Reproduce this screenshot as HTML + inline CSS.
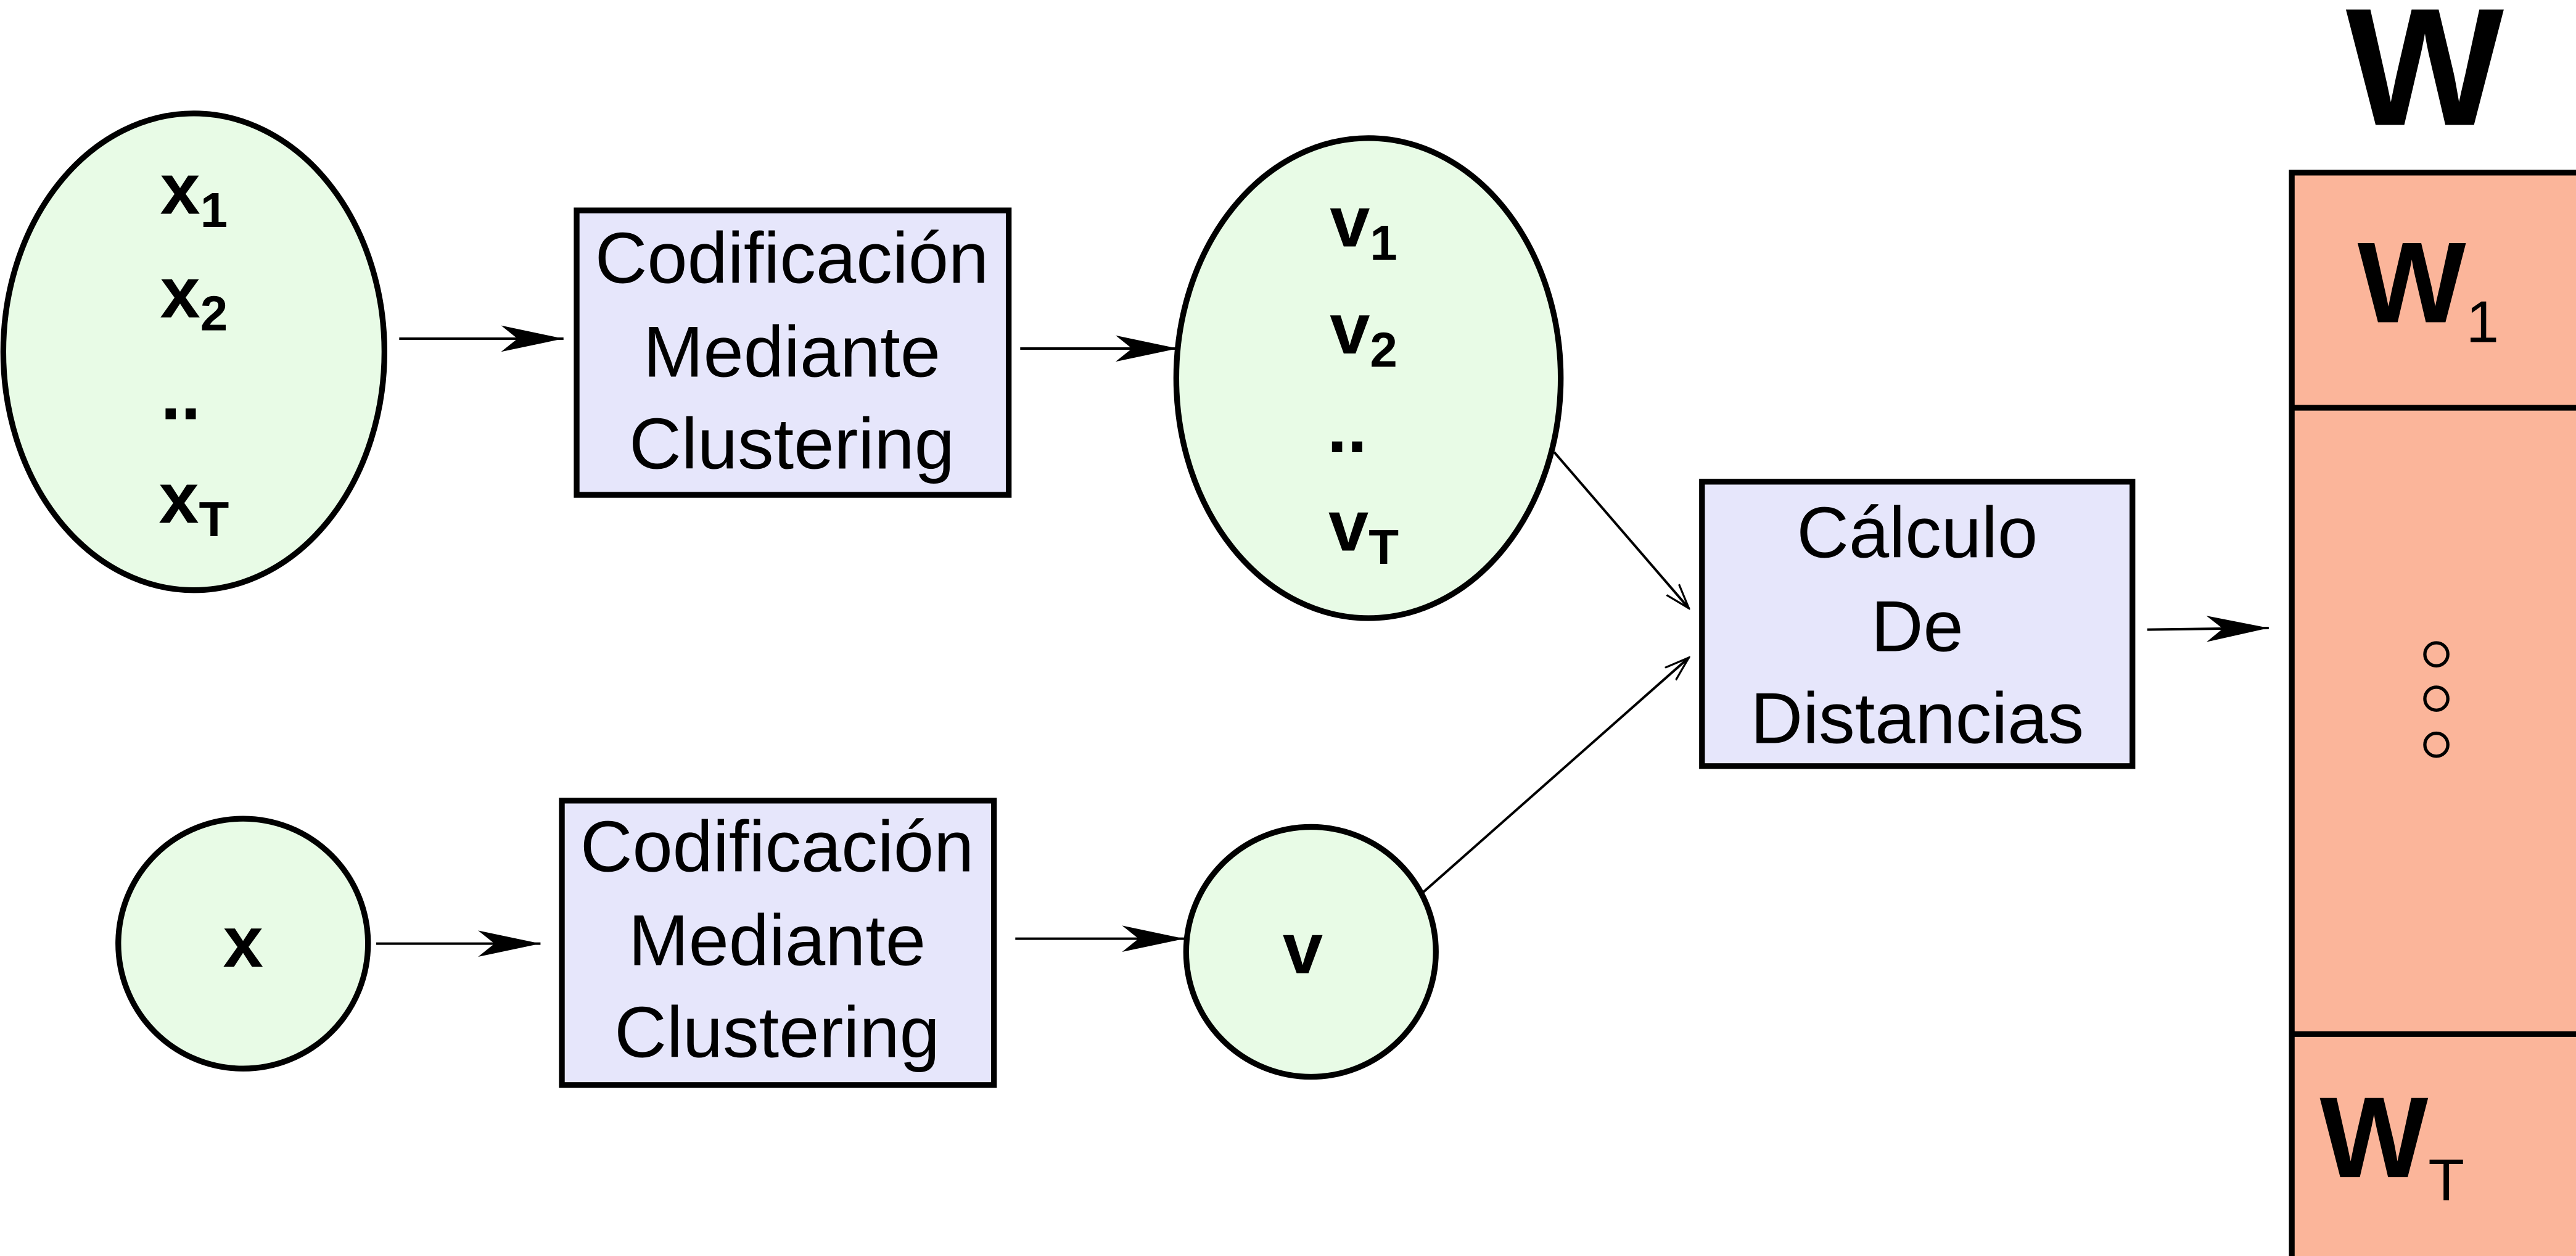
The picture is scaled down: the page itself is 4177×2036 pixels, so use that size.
<!DOCTYPE html>
<html><head><meta charset="utf-8"><style>
html,body{margin:0;padding:0;background:#fff;}
svg{display:block;}
text{font-family:"Liberation Sans",sans-serif;}
</style></head><body>
<svg width="4177" height="2036" viewBox="0 0 1568 764" preserveAspectRatio="none" xmlns="http://www.w3.org/2000/svg">
<defs>
<marker id="ah" markerWidth="40" markerHeight="20" refX="38" refY="10" orient="auto" markerUnits="userSpaceOnUse">
<path d="M0,2 L38,10 L0,18 L10,10 Z" fill="#000"/>
</marker>
<marker id="ahs" markerWidth="16" markerHeight="12" refX="15" refY="6" orient="auto" markerUnits="userSpaceOnUse">
<path d="M0,1 L15,6 L0,11" fill="none" stroke="#000" stroke-width="1.2"/>
</marker>
</defs>
<g stroke="#000" stroke-width="3.5">
<ellipse cx="118" cy="214" rx="116" ry="145" fill="#e8fbe6"/>
<ellipse cx="833" cy="230" rx="117" ry="146" fill="#e8fbe6"/>
<circle cx="148" cy="574" r="76" fill="#e8fbe6"/>
<circle cx="798" cy="579" r="76" fill="#e8fbe6"/>
<rect x="351" y="128" width="263" height="173" fill="#e6e6fb"/>
<rect x="342" y="487" width="263" height="173" fill="#e6e6fb"/>
<rect x="1036" y="293" width="262" height="173" fill="#e6e6fb"/>
<rect x="1395" y="105" width="175" height="665" fill="#fbb59a"/>
<line x1="1395" y1="248" x2="1568" y2="248"/>
<line x1="1395" y1="629" x2="1568" y2="629"/>
</g>
<g stroke="#000" stroke-width="1.5" fill="none">
<line x1="243" y1="206" x2="343" y2="206" marker-end="url(#ah)"/>
<line x1="621" y1="212" x2="717" y2="212" marker-end="url(#ah)"/>
<line x1="229" y1="574" x2="329" y2="574" marker-end="url(#ah)"/>
<line x1="618" y1="571" x2="721" y2="571" marker-end="url(#ah)"/>
<line x1="1307" y1="383" x2="1381" y2="382" marker-end="url(#ah)"/>
<line x1="946" y1="275" x2="1028" y2="370" marker-end="url(#ahs)"/>
<line x1="866" y1="543" x2="1028" y2="400" marker-end="url(#ahs)"/>
</g>
<g font-weight="bold" font-size="44" text-anchor="middle">
<text x="118" y="130">x<tspan font-size="30" dy="8">1</tspan></text>
<text x="118" y="193">x<tspan font-size="30" dy="8">2</tspan></text>
<text x="110" y="255">..</text>
<text x="118" y="318">x<tspan font-size="30" dy="8">T</tspan></text>
<text x="830" y="150">v<tspan font-size="30" dy="8">1</tspan></text>
<text x="830" y="215">v<tspan font-size="30" dy="8">2</tspan></text>
<text x="820" y="275">..</text>
<text x="830" y="335">v<tspan font-size="30" dy="8">T</tspan></text>
<text x="148" y="588">x</text>
<text x="793" y="592">v</text>
</g>
<g font-size="44" text-anchor="middle">
<text x="482" y="172">Codificación</text>
<text x="482" y="229">Mediante</text>
<text x="482" y="285">Clustering</text>
<text x="473" y="530">Codificación</text>
<text x="473" y="587">Mediante</text>
<text x="473" y="643">Clustering</text>
<text x="1167" y="339">Cálculo</text>
<text x="1167" y="396">De</text>
<text x="1167" y="452">Distancias</text>
</g>
<text x="1476" y="76" font-size="102" font-weight="bold" text-anchor="middle">W</text>
<text x="1435" y="196" font-size="70" font-weight="bold">W<tspan font-size="36" font-weight="normal" dy="12">1</tspan></text>
<text x="1412" y="716" font-size="70" font-weight="bold">W<tspan font-size="36" font-weight="normal" dy="14">T</tspan></text>
<g fill="none" stroke="#000" stroke-width="2">
<circle cx="1483" cy="398" r="7"/>
<circle cx="1483" cy="425" r="7"/>
<circle cx="1483" cy="453" r="7"/>
</g>
</svg>
</body></html>
